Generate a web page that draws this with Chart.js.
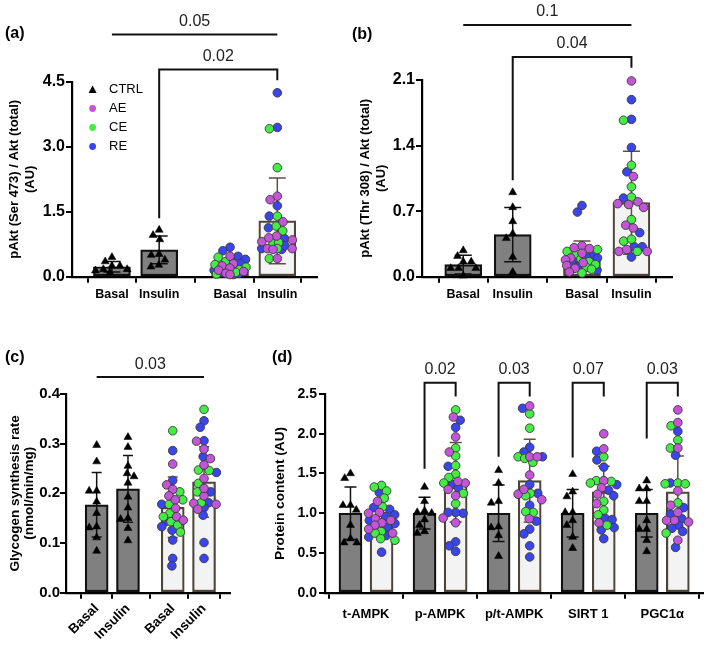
<!DOCTYPE html>
<html>
<head>
<meta charset="utf-8">
<script src="https://cdn.jsdelivr.net/npm/chart.js@4.4.1/dist/chart.umd.min.js"></script>
<style>
  body { margin: 0; background: #fff; }
  #page { position: relative; width: 709px; height: 646px; overflow: hidden; background: #fff; }
  .panel { position: absolute; display: block; }
  .tag { position: absolute; font: bold 16px 'Liberation Sans', Arial, sans-serif; line-height: 18px; color: #000; }
</style>
</head>
<body>
<div id="page">
  <canvas class="panel" id="chart_a" width="350" height="320" style="left:0;top:0"></canvas>
  <canvas class="panel" id="chart_b" width="359" height="320" style="left:350px;top:0"></canvas>
  <canvas class="panel" id="chart_c" width="260" height="326" style="left:0;top:320px"></canvas>
  <canvas class="panel" id="chart_d" width="449" height="326" style="left:260px;top:320px"></canvas>
  <div class="tag" style="left:5px;top:24px">(a)</div>
  <div class="tag" style="left:352px;top:25px">(b)</div>
  <div class="tag" style="left:5px;top:348px">(c)</div>
  <div class="tag" style="left:272px;top:348px">(d)</div>
</div>
<script>
// ---- data ----
const groupLabels = ['Basal', 'Insulin', 'Basal', 'Insulin'];

// (a) pAkt Ser473
const aTicks = [0, 1.5, 3.0, 4.5];
const aMean = [0.23, 0.62, 0.25, 1.29];
const aSd = [0.12, 0.32, 0.16, 0.99];
const aCtrl = [
    [0.35, 0.45, 0.17, 0.14, 0.25, 0.17, 0.25, 0.10],
    [1.08, 0.96, 0.86, 0.52, 0.50, 0.39, 0.23, 0.27]
];
const aExBasal = [[0.68,'RE'],[0.60,'RE'],[0.47,'AE'],[0.45,'CE'],[0.47,'RE'],[0.40,'RE'],[0.35,'CE'],[0.30,'AE'],[0.30,'RE'],[0.28,'CE'],[0.25,'AE'],[0.22,'CE'],[0.20,'RE'],[0.20,'AE'],[0.18,'RE'],[0.16,'CE'],[0.15,'AE'],[0.15,'RE'],[0.14,'RE'],[0.12,'AE'],[0.12,'CE'],[0.10,'RE'],[0.10,'CE'],[0.08,'AE'],[0.08,'RE'],[0.06,'CE'],[0.05,'AE'],[0.05,'RE']];
const aExInsulin = [[4.25,'RE'],[3.42,'CE'],[3.45,'RE'],[2.52,'CE'],[1.86,'AE'],[1.78,'AE'],[1.64,'RE'],[1.40,'RE'],[1.40,'CE'],[1.13,'RE'],[1.17,'CE'],[1.27,'AE'],[1.06,'CE'],[0.94,'AE'],[0.85,'AE'],[0.88,'RE'],[0.78,'CE'],[0.81,'AE'],[0.79,'CE'],[0.65,'RE'],[0.65,'AE'],[0.65,'CE'],[0.65,'AE'],[0.63,'AE'],[0.63,'RE'],[0.42,'AE'],[0.42,'CE'],[0.72,'RE'],[0.90,'AE']];
const aPvals = ['0.05', '0.02'];

// (b) pAkt Thr308
const bTicks = [0, 0.7, 1.4, 2.1];
const bMean = [0.13, 0.45, 0.22, 0.79];
const bSd = [0.10, 0.29, 0.16, 0.55];
const bCtrl = [
    [0.16, 0.22, 0.28, 0.16, 0.09, 0.09, 0.09, 0.01],
    [0.90, 0.74, 0.59, 0.46, 0.41, 0.21, 0.05]
];
const bExBasal = [[0.76,'RE'],[0.69,'RE'],[0.33,'AE'],[0.31,'AE'],[0.30,'AE'],[0.29,'CE'],[0.27,'CE'],[0.25,'AE'],[0.24,'CE'],[0.22,'RE'],[0.21,'RE'],[0.20,'AE'],[0.20,'RE'],[0.19,'CE'],[0.18,'AE'],[0.17,'RE'],[0.16,'CE'],[0.15,'AE'],[0.14,'RE'],[0.13,'CE'],[0.12,'AE'],[0.11,'RE'],[0.10,'CE'],[0.09,'AE'],[0.08,'CE'],[0.07,'RE'],[0.05,'AE'],[0.04,'CE']];
const bExInsulin = [[2.09,'AE'],[1.89,'RE'],[1.67,'CE'],[1.68,'RE'],[1.38,'RE'],[1.19,'CE'],[1.12,'RE'],[1.07,'AE'],[0.96,'CE'],[0.84,'RE'],[0.85,'CE'],[0.77,'AE'],[0.80,'AE'],[0.74,'AE'],[0.78,'AE'],[0.61,'CE'],[0.55,'AE'],[0.52,'AE'],[0.47,'RE'],[0.38,'CE'],[0.40,'CE'],[0.32,'RE'],[0.27,'AE'],[0.29,'AE'],[0.27,'CE'],[0.32,'RE'],[0.21,'RE'],[0.27,'AE']];
const bPvals = ['0.1', '0.04'];

// (c) glycogen synthesis
const cTicks = [0, 0.1, 0.2, 0.3, 0.4];
const cMean = [0.177, 0.209, 0.172, 0.223];
const cSd = [0.065, 0.067, 0.061, 0.071];
const cCtrl = [
    [0.297, 0.264, 0.205, 0.205, 0.183, 0.160, 0.133, 0.131, 0.111, 0.084],
    [0.313, 0.293, 0.255, 0.240, 0.234, 0.221, 0.193, 0.171, 0.150, 0.148, 0.130, 0.105]
];
const cExBasal = [[0.326,'CE'],[0.286,'RE'],[0.259,'AE'],[0.226,'RE'],[0.217,'AE'],[0.208,'AE'],[0.203,'CE'],[0.195,'AE'],[0.187,'CE'],[0.187,'AE'],[0.178,'CE'],[0.178,'RE'],[0.170,'AE'],[0.160,'CE'],[0.153,'AE'],[0.146,'AE'],[0.153,'CE'],[0.143,'RE'],[0.143,'CE'],[0.136,'CE'],[0.133,'RE'],[0.126,'RE'],[0.122,'CE'],[0.106,'RE'],[0.069,'RE'],[0.054,'RE']];
const cExInsulin = [[0.369,'CE'],[0.346,'RE'],[0.333,'RE'],[0.306,'RE'],[0.305,'AE'],[0.289,'AE'],[0.274,'RE'],[0.270,'AE'],[0.257,'AE'],[0.247,'CE'],[0.246,'CE'],[0.242,'RE'],[0.220,'CE'],[0.203,'CE'],[0.203,'RE'],[0.195,'AE'],[0.181,'CE'],[0.180,'AE'],[0.181,'RE'],[0.178,'AE'],[0.171,'RE'],[0.168,'AE'],[0.156,'RE'],[0.101,'RE'],[0.069,'RE'],[0.230,'AE'],[0.210,'AE']];
const cPvals = ['0.03'];

// (d) protein content
const dLabels = ['t-AMPK', 'p-AMPK', 'p/t-AMPK', 'SIRT 1', 'PGC1α'];
const dTicks = [0, 0.5, 1.0, 1.5, 2.0, 2.5];
const dCtrlMean = [1.0, 1.0, 1.0, 1.0, 1.0];
const dCtrlSd = [0.33, 0.20, 0.355, 0.30, 0.30];
const dExMean = [0.93, 1.39, 1.41, 1.27, 1.27];
const dExSd = [0.22, 0.50, 0.52, 0.32, 0.45];
const dCtrl = [
    [1.44, 1.50, 1.10, 1.10, 1.04, 0.85, 0.68, 0.63, 0.63],
    [1.33, 1.15, 1.03, 1.01, 1.00, 0.92, 0.85, 0.77, 0.75],
    [1.54, 1.38, 1.15, 1.13, 0.83, 0.82, 0.72, 0.46],
    [1.49, 1.27, 1.21, 1.01, 1.01, 0.91, 0.85, 0.70, 0.56],
    [1.41, 1.31, 1.31, 1.15, 1.15, 0.91, 0.80, 0.80, 0.66, 0.52]
];
const dEx = [
    [[1.35,'CE'],[1.33,'CE'],[1.28,'CE'],[1.26,'RE'],[1.19,'CE'],[1.15,'AE'],[1.08,'CE'],[1.07,'RE'],[1.05,'RE'],[1.01,'AE'],[1.00,'AE'],[0.98,'RE'],[0.96,'RE'],[0.93,'AE'],[0.91,'AE'],[0.91,'RE'],[0.88,'AE'],[0.87,'RE'],[0.85,'AE'],[0.82,'RE'],[0.80,'AE'],[0.77,'CE'],[0.75,'AE'],[0.75,'CE'],[0.72,'RE'],[0.70,'RE'],[0.68,'CE'],[0.66,'CE'],[0.51,'RE']],
    [[2.30,'CE'],[2.21,'AE'],[2.17,'RE'],[2.08,'RE'],[1.96,'AE'],[1.82,'CE'],[1.77,'AE'],[1.72,'CE'],[1.59,'RE'],[1.60,'CE'],[1.49,'CE'],[1.45,'CE'],[1.38,'CE'],[1.38,'AE'],[1.36,'RE'],[1.30,'AE'],[1.25,'CE'],[1.32,'RE'],[1.12,'CE'],[1.00,'RE'],[1.01,'RE'],[1.01,'RE'],[0.94,'AE'],[0.88,'AE'],[0.64,'RE'],[0.59,'RE'],[0.52,'RE'],[1.40,'AE'],[1.22,'AE']],
    [[2.35,'AE'],[2.32,'RE'],[2.25,'CE'],[2.07,'CE'],[1.83,'RE'],[1.77,'RE'],[1.71,'AE'],[1.71,'CE'],[1.71,'AE'],[1.71,'RE'],[1.69,'CE'],[1.64,'CE'],[1.48,'AE'],[1.36,'RE'],[1.25,'RE'],[1.25,'CE'],[1.24,'AE'],[1.22,'CE'],[1.17,'AE'],[1.10,'RE'],[1.01,'CE'],[0.93,'AE'],[0.80,'RE'],[0.74,'RE'],[0.59,'RE'],[0.45,'RE'],[1.30,'AE'],[1.02,'CE'],[0.90,'RE']],
    [[2.00,'AE'],[1.81,'AE'],[1.78,'RE'],[1.71,'CE'],[1.67,'RE'],[1.58,'RE'],[1.41,'AE'],[1.41,'CE'],[1.40,'CE'],[1.38,'CE'],[1.36,'RE'],[1.32,'AE'],[1.29,'RE'],[1.24,'AE'],[1.22,'RE'],[1.15,'CE'],[1.12,'AE'],[1.04,'CE'],[0.98,'CE'],[0.94,'RE'],[0.92,'RE'],[0.88,'AE'],[0.85,'CE'],[0.82,'RE'],[0.79,'RE'],[0.68,'RE']],
    [[2.30,'AE'],[2.14,'AE'],[2.10,'CE'],[2.03,'RE'],[1.92,'CE'],[1.82,'AE'],[1.82,'CE'],[1.73,'RE'],[1.38,'CE'],[1.37,'CE'],[1.37,'CE'],[1.38,'RE'],[1.28,'AE'],[1.10,'AE'],[1.13,'CE'],[1.07,'RE'],[1.01,'AE'],[0.99,'RE'],[0.91,'AE'],[0.93,'RE'],[0.91,'AE'],[0.85,'RE'],[0.89,'AE'],[0.81,'RE'],[0.75,'CE'],[0.77,'RE'],[0.66,'AE'],[0.57,'RE']]
];
const dPvals = ['0.02', '0.03', '0.07', '0.03'];
const dBracketFoot = [1.56, 1.71, 1.70, 1.94];

const cohortColors = { AE: '#c455d8', CE: '#45ec45', RE: '#3a45ea' };
const FONT = "'Liberation Sans', Arial, Helvetica, sans-serif";

Chart.defaults.font.family = FONT;
Chart.defaults.color = '#000';

// mean +/- SD whiskers, drawn right after each bar dataset
const errorBars = {
    id: 'errorBars',
    afterDatasetDraw(chart, args) {
        const ds = chart.data.datasets[args.index];
        if (!ds.sd) return;
        const { ctx } = chart;
        const y = chart.scales.y;
        ctx.save();
        ctx.strokeStyle = ds.errColor;
        ctx.lineWidth = 1.5;
        args.meta.data.forEach((bar, i) => {
            const m = ds.data[i].y, s = ds.sd[i];
            const top = y.getPixelForValue(m + s), bot = y.getPixelForValue(Math.max(0, m - s));
            const w = ds.capWidth / 2;
            ctx.beginPath();
            ctx.moveTo(bar.x, top); ctx.lineTo(bar.x, bot);
            ctx.moveTo(bar.x - w, top); ctx.lineTo(bar.x + w, top);
            ctx.moveTo(bar.x - w, bot); ctx.lineTo(bar.x + w, bot);
            ctx.stroke();
        });
        ctx.restore();
    }
};

// significance brackets with p-values
const brackets = {
    id: 'brackets',
    afterDraw(chart, args, opts) {
        const items = opts.items || [];
        const { ctx, scales: { x, y } } = chart;
        ctx.save();
        ctx.strokeStyle = '#111';
        ctx.lineWidth = 2;
        ctx.fillStyle = '#222';
        ctx.font = '16px ' + FONT;
        ctx.textAlign = 'center';
        ctx.textBaseline = 'bottom';
        items.forEach(b => {
            const x1 = x.getPixelForValue(b.x1), x2 = x.getPixelForValue(b.x2);
            const yy = y.getPixelForValue(b.level);
            ctx.beginPath();
            ctx.moveTo(x1, y.getPixelForValue(b.drop1 ?? b.level));
            ctx.lineTo(x1, yy);
            ctx.lineTo(x2, yy);
            ctx.lineTo(x2, y.getPixelForValue(b.drop2 ?? b.level));
            ctx.stroke();
            ctx.fillText(b.label, (x1 + x2) / 2, yy - 5);
        });
        ctx.restore();
    }
};

// small key in the top-left of the plot (panel a only)
const keyBox = {
    id: 'keyBox',
    afterDraw(chart, args, opts) {
        if (!opts.show) return;
        const { ctx, chartArea } = chart;
        const sets = chart.data.datasets.filter(d => d.type === 'scatter');
        ctx.save();
        ctx.font = '13px ' + FONT;
        ctx.textBaseline = 'middle';
        sets.forEach((ds, i) => {
            const cx = chartArea.left + 20.6, cy = chartArea.top + 7.5 + i * 19;
            ctx.fillStyle = ds.pointBackgroundColor;
            ctx.beginPath();
            if (ds.pointStyle === 'triangle') {
                ctx.moveTo(cx, cy - 4); ctx.lineTo(cx + 4, cy + 3.5); ctx.lineTo(cx - 4, cy + 3.5);
                ctx.closePath();
            } else {
                ctx.arc(cx, cy, 3.4, 0, Math.PI * 2);
            }
            ctx.fill();
            ctx.fillStyle = '#000';
            ctx.fillText(ds.label, chartArea.left + 37, cy);
        });
        ctx.restore();
    }
};

// spread the individual points sideways so they do not stack (beeswarm)
function swarm(chart, dist, maxHalf) {
    const xs = chart.scales.x, ys = chart.scales.y;
    const groups = new Map();
    chart.data.datasets.forEach(ds => {
        if (ds.type !== 'scatter') return;
        ds.data.forEach(pt => {
            if (!groups.has(pt.cx)) groups.set(pt.cx, []);
            groups.get(pt.cx).push(pt);
        });
    });
    groups.forEach((pts, cx) => {
        const px0 = xs.getPixelForValue(cx);
        const placed = [];
        pts.sort((a, b) => b.y - a.y).forEach(pt => {
            const py = ys.getPixelForValue(pt.y);
            let dx = 0;
            for (const f of [1, 0.85, 0.7, 0.55, 0.4, 0.25, 0]) {
                const r = dist * f;
                const blocked = [];
                placed.forEach(q => {
                    const dy = Math.abs(q.py - py);
                    if (dy < r) {
                        const h = Math.sqrt(r * r - dy * dy);
                        blocked.push([q.dx - h, q.dx + h]);
                    }
                });
                const cands = [0];
                blocked.forEach(([a, b]) => cands.push(a, b));
                cands.sort((a, b) => Math.abs(a) - Math.abs(b) || a - b);
                const ok = cands.find(c => blocked.every(([a, b]) => c <= a + 1e-6 || c >= b - 1e-6));
                if (ok !== undefined && Math.abs(ok) <= maxHalf) { dx = ok; break; }
            }
            placed.push({ dx, py });
            pt.x = xs.getValueForPixel(px0 + dx);
        });
    });
    chart.update('none');
}

function buildPanel(id, p) {
    const pointsOf = (xs, groups) => groups.flatMap((vals, g) => vals.map(v => ({ x: xs[g], y: v, cx: xs[g] })));
    const cohort = key => p.exPts.flatMap((pts, g) =>
        pts.filter(d => d[1] === key).map(d => ({ x: p.exX[g], y: d[0], cx: p.exX[g] })));
    const dots = (label, color, data) => ({
        type: 'scatter', label, data, order: 1, clip: false,
        pointStyle: 'circle', pointRadius: 4.3, pointBorderWidth: 0.9,
        pointBackgroundColor: color, pointBorderColor: '#3a3a3a'
    });
    const datasets = [
        {
            type: 'bar', label: 'CTRL mean', order: 10, grouped: false,
            data: p.ctrlX.map((x, i) => ({ x, y: p.ctrlMean[i] })),
            sd: p.ctrlSd, errColor: '#111', capWidth: p.cap,
            backgroundColor: '#808080', borderColor: '#111', borderWidth: 2.2,
            borderSkipped: false, barThickness: p.barW
        },
        {
            type: 'bar', label: 'Exercise mean', order: 10, grouped: false,
            data: p.exX.map((x, i) => ({ x, y: p.exMean[i] })),
            sd: p.exSd, errColor: '#5b5148', capWidth: p.cap,
            backgroundColor: '#f3f3f3', borderColor: '#4e443a', borderWidth: 2.2,
            borderSkipped: false, barThickness: p.barW
        },
        {
            type: 'scatter', label: 'CTRL', order: 1, clip: false,
            data: pointsOf(p.ctrlX, p.ctrlPts),
            pointStyle: 'triangle', pointRadius: 4.6, pointBorderWidth: 0.5,
            pointBackgroundColor: '#000', pointBorderColor: '#000'
        },
        dots('AE', cohortColors.AE, cohort('AE')),
        dots('CE', cohortColors.CE, cohort('CE')),
        dots('RE', cohortColors.RE, cohort('RE'))
    ];
    const axisGrid = { drawOnChartArea: false, drawTicks: true, tickLength: 6, lineWidth: 2, color: '#000' };
    const chart = new Chart(document.getElementById(id), {
        type: 'bar',
        data: { datasets },
        options: {
            responsive: false,
            animation: false,
            events: [],
            layout: { padding: p.pad },
            plugins: {
                legend: { display: false },
                tooltip: { enabled: false },
                brackets: { items: p.brackets },
                keyBox: { show: !!p.key }
            },
            scales: {
                x: {
                    type: 'linear', min: p.xMin, max: p.xMax, offset: false,
                    afterBuildTicks: s => { s.ticks = p.tickX.map(v => ({ value: v })); },
                    afterFit: s => { s.height = p.xHeight; },
                    ticks: {
                        autoSkip: false, minRotation: p.rot, maxRotation: p.rot, padding: p.xPad,
                        color: '#000', font: { size: p.xFont, weight: 'bold' },
                        callback: (v, i) => p.tickLabels[i]
                    },
                    grid: axisGrid,
                    border: { display: true, color: '#000', width: 2.2 }
                },
                y: {
                    type: 'linear', min: 0, max: p.yTicks[p.yTicks.length - 1],
                    afterBuildTicks: s => { s.ticks = p.yTicks.map(v => ({ value: v })); },
                    afterFit: s => { s.width = p.yWidth; },
                    ticks: {
                        padding: p.yPad, color: '#000', font: { size: p.yFont, weight: 'bold' },
                        callback: v => v.toFixed(1)
                    },
                    grid: axisGrid,
                    border: { display: true, color: '#000', width: 2.2 },
                    title: {
                        display: true, text: p.yTitle, color: '#000',
                        font: { size: p.titleFont, weight: 'bold', lineHeight: p.titleLH },
                        padding: { top: p.titlePad, bottom: 0 }
                    }
                }
            }
        },
        plugins: [errorBars, brackets, keyBox]
    });
    swarm(chart, p.dist, p.spread);
    return chart;
}

// (a)
const aX = [0, 1, 2.5, 3.5];
buildPanel('chart_a', {
    ctrlX: aX.slice(0, 2), exX: aX.slice(2), tickX: aX, tickLabels: groupLabels,
    ctrlMean: aMean.slice(0, 2), ctrlSd: aSd.slice(0, 2), exMean: aMean.slice(2), exSd: aSd.slice(2),
    ctrlPts: aCtrl, exPts: [aExBasal, aExInsulin],
    xMin: -0.845, xMax: 4.34, yTicks: aTicks,
    yTitle: ['pAkt (Ser 473) / Akt (total)', '(AU)'],
    pad: { top: 82, right: 33, left: 0, bottom: 0 }, yWidth: 72, xHeight: 43.3,
    barW: 37, cap: 17, dist: 8, spread: 16.5, rot: 0, xPad: 4, xFont: 12.5, yFont: 16, yPad: 1,
    titleFont: 13, titleLH: 1.2, titlePad: 7,
    key: true,
    brackets: [
        { x1: aX[0], x2: aX[3], level: 5.6, label: aPvals[0] },
        { x1: aX[1], x2: aX[3], level: 4.79, drop1: 1.35, drop2: 4.54, label: aPvals[1] }
    ]
});

// (b)
const bX = [0, 1, 2.4, 3.4];
buildPanel('chart_b', {
    ctrlX: bX.slice(0, 2), exX: bX.slice(2), tickX: bX, tickLabels: groupLabels,
    ctrlMean: bMean.slice(0, 2), ctrlSd: bSd.slice(0, 2), exMean: bMean.slice(2), exSd: bSd.slice(2),
    ctrlPts: bCtrl, exPts: [bExBasal, bExInsulin],
    xMin: -0.834, xMax: 4.22, yTicks: bTicks,
    yTitle: ['pAkt (Thr 308) / Akt (total)', '(AU)'],
    pad: { top: 80, right: 37, left: 0, bottom: 0 }, yWidth: 72, xHeight: 43.3,
    barW: 37, cap: 17, dist: 8, spread: 16.5, rot: 0, xPad: 4, xFont: 12.5, yFont: 16, yPad: 1,
    titleFont: 13, titleLH: 1.2, titlePad: 8,
    brackets: [
        { x1: bX[0], x2: bX[3], level: 2.687, label: bPvals[0] },
        { x1: bX[1], x2: bX[3], level: 2.345, drop1: 1.03, drop2: 2.23, label: bPvals[1] }
    ]
});

// (c)
const cX = [0, 1, 2.43, 3.43];
buildPanel('chart_c', {
    ctrlX: cX.slice(0, 2), exX: cX.slice(2), tickX: cX, tickLabels: groupLabels,
    ctrlMean: cMean.slice(0, 2), ctrlSd: cSd.slice(0, 2), exMean: cMean.slice(2), exSd: cSd.slice(2),
    ctrlPts: cCtrl, exPts: [cExBasal, cExInsulin],
    xMin: -0.98, xMax: 4.26, yTicks: cTicks,
    yTitle: ['Glycogen synthesis rate', '(nmol/min/mg)'],
    pad: { top: 74, right: 30, left: 0, bottom: 0 }, yWidth: 66, xHeight: 53.3,
    barW: 23, cap: 10, dist: 7.5, spread: 12.5, rot: 45, xPad: 2, xFont: 13.5, yFont: 15, yPad: 0,
    titleFont: 13.5, titleLH: 1.0, titlePad: 9,
    brackets: [
        { x1: cX[0], x2: cX[3], level: 0.434, label: cPvals[0] }
    ]
});

// (d)
const dX = dLabels.map((_, i) => i);
const pairShift = 0.21;
buildPanel('chart_d', {
    ctrlX: dX.map(v => v - pairShift), exX: dX.map(v => v + pairShift), tickX: dX, tickLabels: dLabels,
    ctrlMean: dCtrlMean, ctrlSd: dCtrlSd, exMean: dExMean, exSd: dExSd,
    ctrlPts: dCtrl, exPts: dEx,
    xMin: -0.554, xMax: 4.55, yTicks: dTicks,
    yTitle: 'Protein content (AU)',
    pad: { top: 74, right: 6, left: 0, bottom: 0 }, yWidth: 65, xHeight: 53.3,
    barW: 23, cap: 12, dist: 7.5, spread: 13.5, rot: 0, xPad: 8, xFont: 13, yFont: 14, yPad: 2,
    titleFont: 13.7, titleLH: 1.2, titlePad: 12,
    brackets: dPvals.map((pv, k) => ({
        x1: dX[k + 1] - pairShift, x2: dX[k + 1] + pairShift,
        level: 2.64, drop1: dBracketFoot[k], drop2: 2.47, label: pv
    }))
});
</script>
</body>
</html>
